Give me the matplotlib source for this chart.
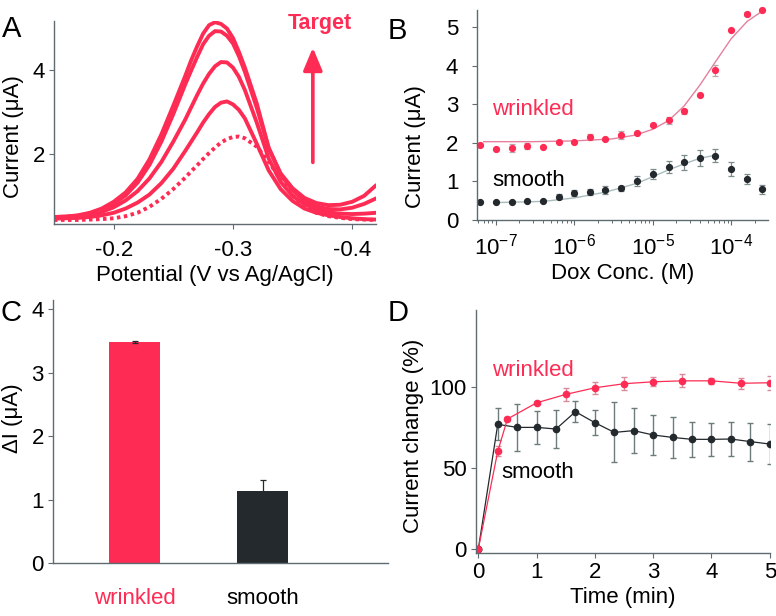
import matplotlib
matplotlib.use("Agg")
import matplotlib.pyplot as plt
import numpy as np

plt.rcParams['font.family'] = ['Liberation Sans', 'DejaVu Sans']
plt.rcParams['mathtext.fontset'] = 'custom'
plt.rcParams['mathtext.rm'] = 'Liberation Sans'
plt.rcParams['mathtext.it'] = 'Liberation Sans:italic'
plt.rcParams['font.size'] = 16

RED = '#fe2c54'
DARK = '#23292d'
SPINE = '#5f6b70'
FS = 16

# --- A: square wave voltammograms ---
potential = [-0.15, -0.16, -0.17, -0.18, -0.19, -0.20, -0.21, -0.22, -0.23, -0.24,
             -0.25, -0.26, -0.265, -0.27, -0.275, -0.28, -0.285, -0.29, -0.295, -0.30,
             -0.305, -0.31, -0.32, -0.33, -0.34, -0.35, -0.36, -0.37, -0.38, -0.39,
             -0.40, -0.41, -0.42]
swv_1 = [0.52, 0.53, 0.56, 0.62, 0.72, 0.88, 1.10, 1.42, 1.88, 2.47,
         3.15, 3.85, 4.22, 4.55, 4.85, 5.05, 5.12, 5.08, 4.97, 4.75,
         4.42, 4.05, 3.20, 2.15, 1.55, 1.20, 0.97, 0.85, 0.80, 0.81,
         0.88, 1.02, 1.27]
swv_2 = [0.52, 0.53, 0.55, 0.60, 0.69, 0.83, 1.03, 1.33, 1.75, 2.30,
         2.95, 3.65, 3.98, 4.30, 4.60, 4.80, 4.91, 4.90, 4.80, 4.62,
         4.32, 3.95, 3.10, 2.15, 1.52, 1.15, 0.90, 0.77, 0.71, 0.70,
         0.74, 0.83, 0.96]
swv_3 = [0.50, 0.51, 0.53, 0.57, 0.64, 0.75, 0.91, 1.13, 1.43, 1.82,
         2.30, 2.82, 3.11, 3.40, 3.67, 3.90, 4.08, 4.18, 4.17, 4.05,
         3.83, 3.52, 2.75, 1.90, 1.35, 1.02, 0.82, 0.70, 0.63, 0.60,
         0.59, 0.60, 0.62]
swv_4 = [0.48, 0.49, 0.50, 0.52, 0.56, 0.62, 0.72, 0.86, 1.05, 1.32,
         1.66, 2.08, 2.30, 2.52, 2.75, 2.95, 3.12, 3.22, 3.25, 3.18,
         3.05, 2.85, 2.25, 1.62, 1.18, 0.90, 0.72, 0.62, 0.56, 0.52,
         0.49, 0.47, 0.46]
swv_blank = [0.45, 0.45, 0.45, 0.46, 0.47, 0.49, 0.54, 0.62, 0.76, 0.95,
             1.18, 1.45, 1.60, 1.74, 1.89, 2.03, 2.16, 2.28, 2.36, 2.41,
             2.42, 2.38, 2.18, 1.83, 1.40, 1.03, 0.77, 0.62, 0.54, 0.50,
             0.47, 0.46, 0.45]

# --- B: calibration ---
dox_conc = [6.3e-8, 1e-7, 1.6e-7, 2.5e-7, 4e-7, 6.3e-7, 1e-6, 1.6e-6, 2.5e-6, 4e-6,
            6.3e-6, 1e-5, 1.6e-5, 2.5e-5, 4e-5, 6.3e-5, 1e-4, 1.6e-4, 2.5e-4]
wrinkled_cur = [1.95, 1.85, 1.87, 1.92, 1.90, 2.03, 2.03, 2.15, 2.10, 2.20,
                2.25, 2.45, 2.58, 2.82, 3.25, 3.88, 4.94, 5.34, 5.45]
wrinkled_err = [0.0, 0.0, 0.1, 0.08, 0.0, 0.0, 0.0, 0.07, 0.0, 0.1,
                0.0, 0.0, 0.1, 0.07, 0.0, 0.15, 0.0, 0.05, 0.0]
smooth_cur = [0.47, 0.47, 0.47, 0.48, 0.50, 0.60, 0.70, 0.73, 0.77, 0.82,
              1.00, 1.20, 1.38, 1.49, 1.61, 1.66, 1.32, 1.06, 0.79]
smooth_err = [0.0, 0.0, 0.0, 0.0, 0.0, 0.06, 0.08, 0.08, 0.1, 0.06,
              0.13, 0.13, 0.15, 0.2, 0.2, 0.17, 0.19, 0.14, 0.12]
wfit_conc = [7e-8, 3e-7, 1e-6, 3e-6, 6e-6, 1e-5, 1.6e-5, 2.5e-5, 4e-5, 6.3e-5,
             1e-4, 1.6e-4, 2.5e-4, 3e-4]
wfit_cur = [2.03, 2.03, 2.05, 2.10, 2.20, 2.35, 2.58, 2.95, 3.50, 4.10,
            4.70, 5.15, 5.42, 5.55]
sfit_conc = [1e-7, 4e-7, 1e-6, 2.5e-6, 6.3e-6, 1e-5, 1.6e-5, 2.5e-5, 4e-5, 6.3e-5]
sfit_cur = [0.45, 0.48, 0.57, 0.72, 0.95, 1.12, 1.30, 1.45, 1.60, 1.68]

# --- C: signal change ---
surfaces = ['wrinkled', 'smooth']
delta_i = [3.49, 1.13]
delta_err = [0.02, 0.18]

# --- D: kinetics ---
t_wrinkled = [0, 1/3, 0.5, 1, 1.5, 2, 2.5, 3, 3.5, 4, 4.5, 5]
chg_wrinkled = [0, 60.5, 80.5, 90.5, 95.7, 99.8, 102.3, 103.5, 104.1, 104.1, 102.6, 102.9]
err_wrinkled = [0, 3, 1.5, 1, 3.9, 3.6, 4, 2.7, 4, 2, 3.5, 4.3]
t_smooth = [0, 1/3, 2/3, 1, 4/3, 5/3, 2, 7/3, 8/3, 3, 10/3, 11/3, 4, 13/3, 14/3, 5]
chg_smooth = [0, 77.2, 75.3, 75.3, 74.3, 85.0, 78.2, 72.2, 73.3, 70.6, 69.1, 67.9, 67.9, 68.1, 66.5, 65.0]
err_smooth = [0, 10, 14.7, 10, 11.8, 6.4, 7.8, 18.5, 14, 12.2, 12.9, 11, 10, 10.3, 11.7, 12.5]

fig = plt.figure(figsize=(7.76, 6.16), dpi=100)
axA = fig.add_axes([0.0696, 0.636, 0.415, 0.330])
axB = fig.add_axes([0.6147, 0.643, 0.375, 0.341])
axC = fig.add_axes([0.0683, 0.086, 0.432, 0.427])
axD = fig.add_axes([0.613, 0.102, 0.379, 0.395])


def style(ax):
    for s in ['top', 'right']:
        ax.spines[s].set_visible(False)
    for s in ['left', 'bottom']:
        ax.spines[s].set_color(SPINE)
        ax.spines[s].set_linewidth(1.0)
    ax.tick_params(direction='out', length=3.5, width=0.8, color=SPINE, labelsize=FS, pad=3)
    ax.tick_params(which='minor', direction='out', length=2, width=0.7, color=SPINE)


# A
style(axA)
for cur in [swv_1, swv_2, swv_3, swv_4]:
    axA.plot(potential, cur, color=RED, lw=2.8, solid_capstyle='round')
axA.plot(potential, swv_blank, color=RED, lw=2.8, linestyle=(0, (0.9, 0.9)))
axA.set_xlim(-0.15, -0.42)
axA.set_ylim(0.35, 5.15)
axA.set_xticks([-0.2, -0.3, -0.4])
axA.set_xticklabels(['-0.2', '-0.3', '-0.4'])
axA.set_yticks([2, 4])
axA.tick_params(axis='x', pad=8)
axA.set_xlabel('Potential (V vs Ag/AgCl)', fontsize=FS, labelpad=3)
axA.set_ylabel('Current (μA)', fontsize=FS, labelpad=6, y=0.43)
axA.annotate('', xy=(-0.367, 4.52), xytext=(-0.367, 1.81),
             arrowprops=dict(arrowstyle='-|>,head_width=0.36,head_length=0.86',
                             mutation_scale=16, color=RED, lw=2.6, shrinkA=0, shrinkB=0))
axA.text(-0.3725, 5.08, 'Target', color=RED, fontsize=15.5, fontweight='bold',
         ha='center', va='center')

# B
style(axB)
axB.set_xscale('log')
axB.plot(wfit_conc, wfit_cur, color='#e5809e', lw=1.0)
axB.plot(sfit_conc, sfit_cur, color='#a9bcbc', lw=1.0)
eb = axB.errorbar(dox_conc, wrinkled_cur, yerr=wrinkled_err, fmt='o', color=RED, ms=4.2,
                  ecolor='#b8a8ab', elinewidth=0.9, capsize=2.2, capthick=0.9)
eb[0].set_clip_on(False)
axB.errorbar(dox_conc, smooth_cur, yerr=smooth_err, fmt='o', color=DARK, ms=4.2,
             ecolor='#7f8c8c', elinewidth=0.9, capsize=2.2, capthick=0.9)
axB.set_xlim(10 ** -7.24, 10 ** -3.53)
axB.set_ylim(0, 5.45)
axB.set_yticks([0, 1, 2, 3, 4, 5])
axB.set_xticks([1e-7, 1e-6, 1e-5, 1e-4])
axB.tick_params(axis='x', pad=6)
axB.tick_params(axis='y', pad=10)
axB.set_xlabel('Dox Conc. (M)', fontsize=FS, labelpad=3)
axB.set_ylabel('Current (μA)', fontsize=FS, labelpad=14, y=0.35)
axB.text(0.052, 0.524, 'wrinkled', color=RED, fontsize=FS, transform=axB.transAxes, va='center')
axB.text(0.052, 0.19, 'smooth', color='black', fontsize=FS, transform=axB.transAxes, va='center')

# C
style(axC)
xpos = np.arange(len(surfaces))
axC.bar(xpos, delta_i, width=0.4, color=[RED, DARK])
axC.errorbar(xpos, delta_i, yerr=delta_err, fmt='none', ecolor=DARK, elinewidth=0.9,
             capsize=2.5, capthick=0.9)
axC.set_xlim(-0.64, 1.98)
axC.set_ylim(0, 4.15)
axC.set_yticks([0, 1, 2, 3, 4])
axC.set_xticks(xpos)
axC.set_xticklabels(surfaces)
axC.set_ylabel('ΔI (μA)', fontsize=FS, labelpad=6, y=0.55)
axC.tick_params(axis='x', length=0, pad=18)
axC.get_xticklabels()[0].set_color(RED)

# D
style(axD)
axD.errorbar(t_smooth, chg_smooth, yerr=err_smooth, fmt='-o', color=DARK, lw=0.9, ms=4.5,
             ecolor='#6d7b7b', elinewidth=1.0, capsize=2.5, capthick=1.0)
axD.errorbar(t_wrinkled, chg_wrinkled, yerr=err_wrinkled, fmt='-o', color=RED, lw=0.9, ms=4.5,
             mfc=RED, mec=RED, ecolor='#d98a9c', elinewidth=1.0, capsize=2.5, capthick=1.0)
axD.plot(t_smooth[:1], chg_smooth[:1], 'o', color=DARK, ms=4.5)
axD.set_xlim(-0.045, 5)
axD.set_ylim(-2.5, 148)
axD.set_xticks([0, 1, 2, 3, 4, 5])
axD.set_yticks([0, 50, 100])
axD.set_xlabel('Time (min)', fontsize=FS, labelpad=3)
axD.set_ylabel('Current change (%)', fontsize=FS, labelpad=4, y=0.48)
axD.text(0.054, 0.75, 'wrinkled', color=RED, fontsize=FS, transform=axD.transAxes, va='center')
axD.text(0.088, 0.33, 'smooth', color='black', fontsize=FS, transform=axD.transAxes, va='center')

# panel letters
fig.text(0.003, 0.975, 'A', fontsize=21, va='top')
fig.text(0.500, 0.972, 'B', fontsize=21, va='top')
fig.text(0.000, 0.515, 'C', fontsize=21, va='top')
fig.text(0.500, 0.515, 'D', fontsize=21, va='top')

fig.savefig('out.png', dpi=100)
